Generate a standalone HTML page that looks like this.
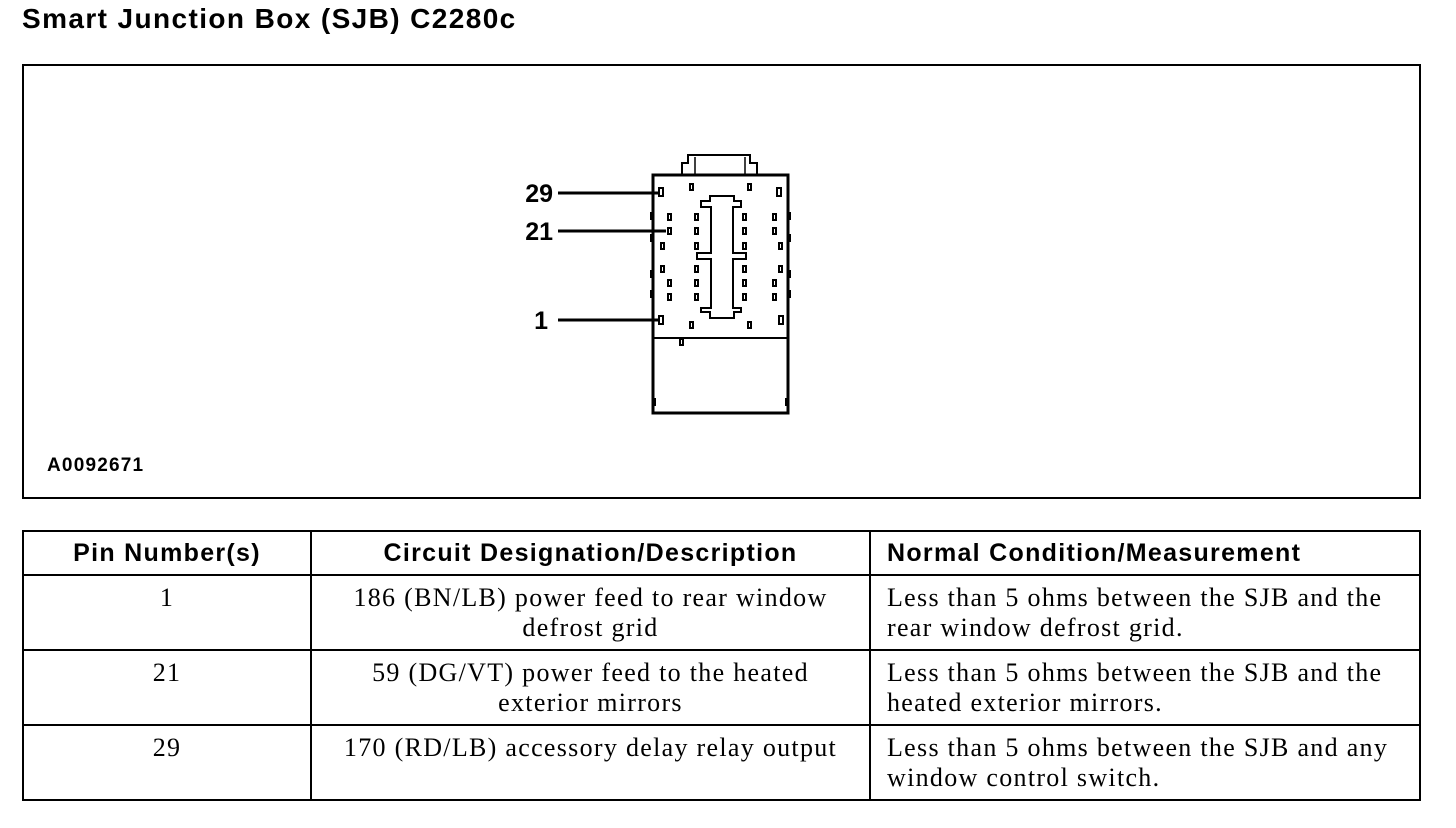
<!DOCTYPE html>
<html><head><style>
body{margin:0;width:1456px;height:828px;background:#fff;position:relative;font-family:"Liberation Sans",sans-serif;overflow:hidden}
.t{position:absolute;left:22px;top:3px;font-weight:bold;font-size:28px;letter-spacing:1.4px}
.frame{position:absolute;left:22px;top:64px;width:1395px;height:431px;border:2px solid #000}
.code{position:absolute;left:47px;top:455px;font-weight:bold;font-size:19px;letter-spacing:1.2px}
table{position:absolute;left:22px;top:530px;border-collapse:collapse;width:1399px;table-layout:fixed}
td,th{border:2px solid #000;vertical-align:top;font-family:"Liberation Serif",serif;font-size:26px;line-height:30px;padding:7px 16px 6px;letter-spacing:1.3px}
th{font-family:"Liberation Sans",sans-serif;font-weight:bold;font-size:25px;height:30px;vertical-align:middle;padding:6px 16px;letter-spacing:1.3px}
td.c{text-align:center}
</style></head><body>
<div class="t">Smart Junction Box (SJB) C2280c</div>
<div class="frame"></div>
<div class="code">A0092671</div>
<svg style="position:absolute;left:0;top:0" width="1456" height="520">
<g fill="none" stroke="#000" stroke-width="3">
<rect x="653" y="175" width="135" height="238"/>
<line x1="653" y1="338" x2="788" y2="338" stroke-width="2"/>
<path d="M682 175 V163 H688 V155 H750 V163 H757 V175" stroke-width="2"/>
<line x1="695" y1="157" x2="695" y2="175" stroke-width="1.5"/>
<line x1="745" y1="157" x2="745" y2="175" stroke-width="1.5"/>
<path d="M710 196 H734 V201 H741 V207 H733 V253 H746 V259 H733 V308 H741 V312 H734 V318 H710 V312 H701 V308 H711 V259 H697 V253 H711 V207 H701 V201 H710 Z" stroke-width="2"/>
</g>
<g stroke="#000" stroke-width="3">
<line x1="558" y1="193" x2="660" y2="193"/>
<line x1="558" y1="231" x2="666" y2="231"/>
<line x1="558" y1="320" x2="660" y2="320"/>
</g>
<g fill="none" stroke="#000" stroke-width="2">
<rect x="659" y="188" width="4" height="8"/><rect x="690" y="184" width="3" height="6"/><rect x="748" y="184" width="3" height="6"/><rect x="777" y="188" width="4" height="8"/>
<rect x="668" y="214" width="3" height="6"/><rect x="695" y="214" width="3" height="6"/><rect x="743" y="214" width="3" height="6"/><rect x="773" y="214" width="3" height="6"/>
<rect x="668" y="228" width="3" height="6"/><rect x="695" y="228" width="3" height="6"/><rect x="743" y="228" width="3" height="6"/><rect x="773" y="228" width="3" height="6"/>
<rect x="661" y="243" width="3" height="6"/><rect x="695" y="243" width="3" height="6"/><rect x="743" y="243" width="3" height="6"/><rect x="779" y="243" width="3" height="6"/>
<rect x="661" y="266" width="3" height="6"/><rect x="695" y="266" width="3" height="6"/><rect x="743" y="266" width="3" height="6"/><rect x="779" y="266" width="3" height="6"/>
<rect x="668" y="280" width="3" height="6"/><rect x="695" y="280" width="3" height="6"/><rect x="743" y="280" width="3" height="6"/><rect x="773" y="280" width="3" height="6"/>
<rect x="668" y="294" width="3" height="6"/><rect x="695" y="294" width="3" height="6"/><rect x="743" y="294" width="3" height="6"/><rect x="773" y="294" width="3" height="6"/>
<rect x="659" y="316" width="4" height="8"/><rect x="690" y="322" width="3" height="6"/><rect x="748" y="322" width="3" height="6"/><rect x="779" y="316" width="4" height="8"/>
<rect x="680" y="339" width="3" height="6"/>
</g>
<g fill="#000">
<rect x="650" y="212" width="4" height="8"/><rect x="650" y="234" width="4" height="8"/><rect x="650" y="270" width="4" height="8"/><rect x="650" y="290" width="4" height="8"/>
<rect x="787" y="212" width="4" height="8"/><rect x="787" y="234" width="4" height="8"/><rect x="787" y="270" width="4" height="8"/><rect x="787" y="290" width="4" height="8"/>
<rect x="653" y="398" width="3" height="8"/><rect x="785" y="398" width="3" height="8"/>
</g>
<g font-family="Liberation Sans, sans-serif" font-weight="bold" font-size="25" text-anchor="end">
<text x="553" y="202">29</text><text x="553" y="240">21</text><text x="548" y="329">1</text>
</g>
</svg>
<table>
<colgroup><col style="width:288px"><col style="width:559px"><col></colgroup>
<tr><th>Pin Number(s)</th><th>Circuit Designation/Description</th><th style="text-align:left">Normal Condition/Measurement</th></tr>
<tr><td class="c">1</td><td class="c">186 (BN/LB) power feed to rear window defrost grid</td><td>Less than 5 ohms between the SJB and the rear window defrost grid.</td></tr>
<tr><td class="c">21</td><td class="c">59 (DG/VT) power feed to the heated exterior mirrors</td><td>Less than 5 ohms between the SJB and the heated exterior mirrors.</td></tr>
<tr><td class="c">29</td><td class="c">170 (RD/LB) accessory delay relay output</td><td>Less than 5 ohms between the SJB and any window control switch.</td></tr>
</table>
</body></html>
